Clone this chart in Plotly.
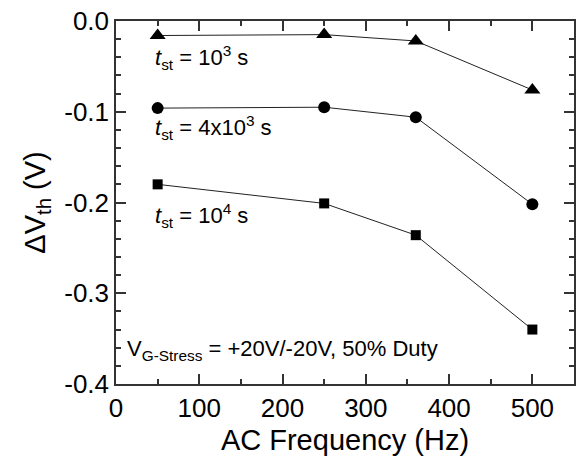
import plotly.graph_objects as go

freq = [50, 250, 360, 500]
dv_1e3 = [-0.016, -0.015, -0.022, -0.076]
dv_4e3 = [-0.096, -0.095, -0.106, -0.202]
dv_1e4 = [-0.180, -0.201, -0.236, -0.340]

ytick_vals = [0.0, -0.1, -0.2, -0.3, -0.4]
ytick_text = ["0.0", "-0.1", "-0.2", "-0.3", "-0.4"]
xtick_vals = [0, 100, 200, 300, 400, 500]
xtick_text = ["0", "100", "200", "300", "400", "500"]

FONT = "Arial, Liberation Sans, sans-serif"

fig = go.Figure()
for ys, sym, sz in [(dv_1e3, "triangle-up", 14), (dv_4e3, "circle", 12), (dv_1e4, "square", 10)]:
    fig.add_trace(go.Scatter(
        x=freq, y=ys, mode="lines+markers",
        line=dict(color="#222222", width=1),
        marker=dict(symbol=sym, size=sz, color="black"),
        showlegend=False, cliponaxis=False,
    ))

annos = [
    (44, -0.040, "<i>t</i><sub>st</sub> = 10<sup>3</sup> s"),
    (44, -0.117, "<i>t</i><sub>st</sub> = 4x10<sup>3</sup> s"),
    (44, -0.214, "<i>t</i><sub>st</sub> = 10<sup>4</sup> s"),
    (11, -0.363, "V<sub>G-Stress</sub> = +20V/-20V, 50% Duty"),
]
for x, y, t in annos:
    fig.add_annotation(x=x, y=y, text=t, showarrow=False, xanchor="left", yanchor="middle",
                       font=dict(family=FONT, size=22, color="black"))

axis_common = dict(
    showline=True, linecolor="#333333", linewidth=1.5, mirror="allticks",
    ticks="inside", ticklen=10, tickwidth=1.5, tickcolor="#333333",
    showgrid=False, zeroline=False,
    tickfont=dict(family=FONT, size=26, color="black"),
)
fig.update_xaxes(
    range=[0, 550], tickvals=xtick_vals, ticktext=xtick_text,
    minor=dict(dtick=50, ticks="inside", ticklen=5, tickwidth=1.5, tickcolor="#333333"),
    title=dict(text="AC Frequency (Hz)", font=dict(family=FONT, size=29, color="black"), standoff=8),
    **axis_common,
)
fig.update_yaxes(
    range=[-0.4, 0.0], tickvals=ytick_vals, ticktext=ytick_text,
    minor=dict(dtick=0.02, ticks="inside", ticklen=5, tickwidth=1.5, tickcolor="#333333"),
    title=dict(text="ΔV<sub>th</sub> (V)", font=dict(family=FONT, size=29, color="black"), standoff=10),
    **axis_common,
)
fig.update_layout(
    width=579, height=457,
    margin=dict(l=116, r=3, t=21, b=73),
    paper_bgcolor="white", plot_bgcolor="white",
)
fig.write_html("out.html")
